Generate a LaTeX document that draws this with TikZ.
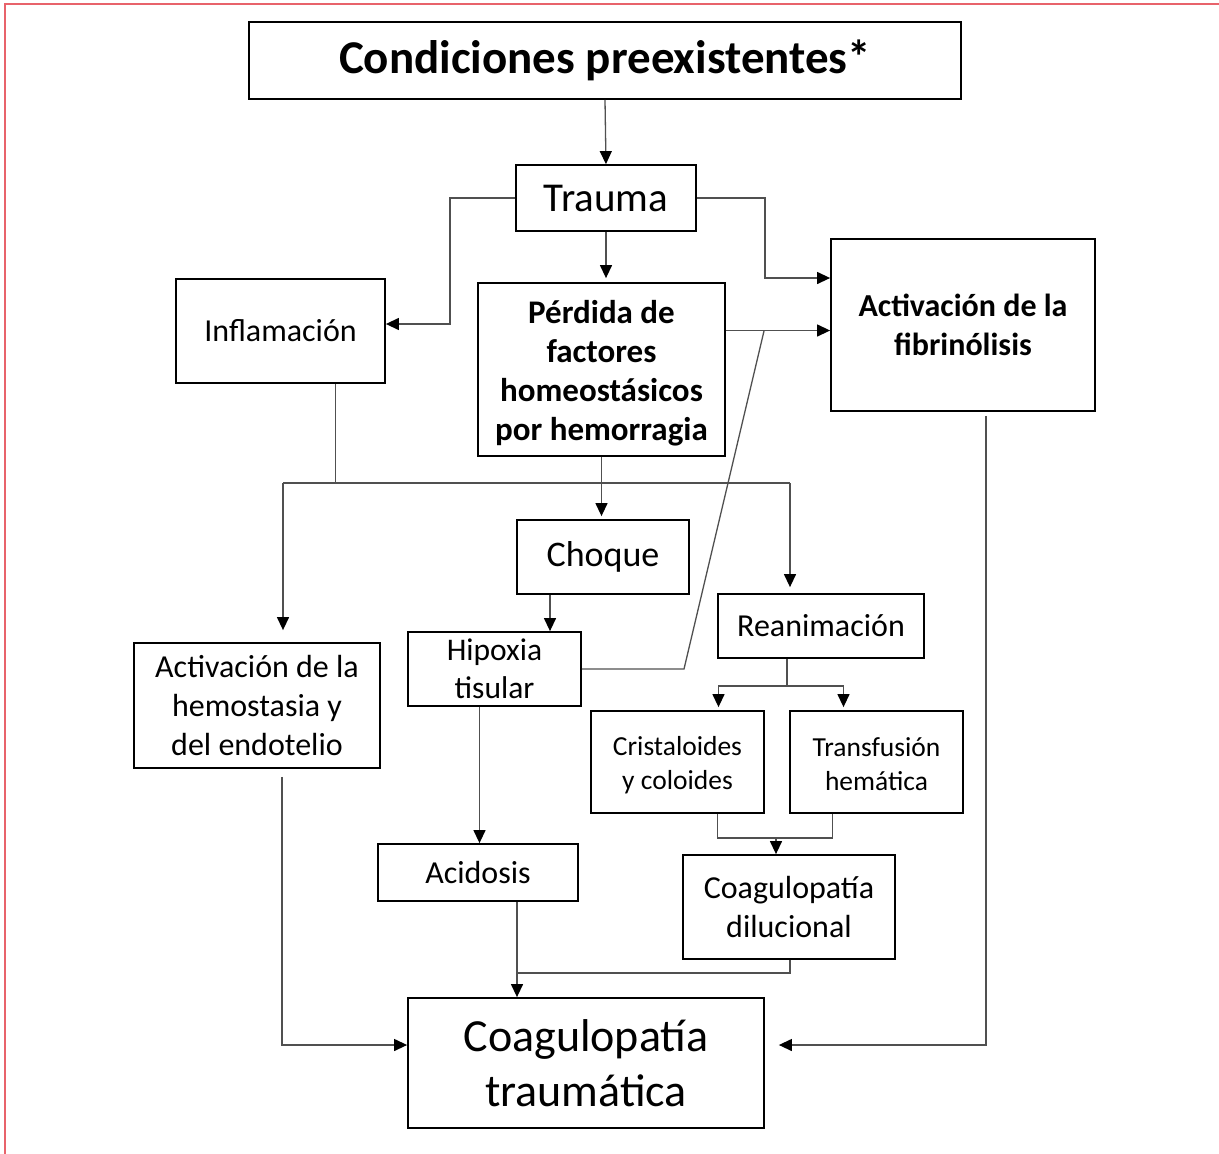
\documentclass[tikz,border=0pt]{standalone}
\usepackage{fontspec}
\setmainfont{Carlito}
\usepackage{tikz}
\usetikzlibrary{arrows.meta, positioning, calc}
\def\fs#1#2{\fontsize{#1}{#2}\selectfont}
\def\bajo#1#2#3{\parbox{#1}{\centering\vspace*{#2}#3}}
\definecolor{marco}{HTML}{E8636B}
\definecolor{gris}{HTML}{505050}
\tikzset{
  caja/.style={draw=black, line width=1.8pt, inner sep=0pt, align=center},
  linea/.style={gris, line width=1.3pt},
  flecha/.style={linea, -{Triangle[length=13pt,width=12pt,color=black]}},
}

\begin{document}
\begin{tikzpicture}[x=1pt,y=-1pt]
\useasboundingbox (0,0) rectangle (1219,1154);
\draw[marco, line width=1.6pt] (5,1154) -- (5,4) -- (1219,4);

\node[caja, minimum width=712pt, minimum height=77pt, font=\bfseries\fs{47}{55}] (cond) at (605,60.5) {Condiciones preexistentes*};
\node[caja, minimum width=180pt, minimum height=66pt, font=\fs{41}{48}] (trauma) at (606,198) {Trauma};
\node[caja, minimum width=209pt, minimum height=104pt, font=\fs{32}{39}] (inflam) at (280.5,331) {Inflamación};
\node[caja, minimum width=247pt, minimum height=173pt, font=\bfseries\fs{33}{39}] (perdida) at (601.5,369.5) {\bajo{240pt}{8pt}{Pérdida de\\factores\\homeostásicos\\por hemorragia}};
\node[caja, minimum width=264pt, minimum height=172pt, font=\bfseries\fs{32}{39}] (fibrin) at (963,325) {Activación de la\\fibrinólisis};
\node[caja, minimum width=172pt, minimum height=74pt, font=\fs{36}{42}] (choque) at (603,557) {Choque};
\node[caja, minimum width=173pt, minimum height=74pt, font=\fs{31.5}{38}] (hipoxia) at (494.5,669) {Hipoxia\\tisular};
\node[caja, minimum width=206pt, minimum height=64pt, font=\fs{32}{39}] (reanim) at (821,626) {Reanimación};
\node[caja, minimum width=246pt, minimum height=125pt, font=\fs{32}{39}] (hemo) at (257,705.5) {Activación de la\\hemostasia y\\del endotelio};
\node[caja, minimum width=173pt, minimum height=102pt, font=\fs{27.5}{34}] (crist) at (677.5,762) {\bajo{165pt}{6pt}{Cristaloides\\y coloides}};
\node[caja, minimum width=173pt, minimum height=102pt, font=\fs{27.5}{34}] (transf) at (876.5,762) {\bajo{165pt}{4pt}{Transfusión\\hemática}};
\node[caja, minimum width=200pt, minimum height=57pt, font=\fs{32}{39}] (acid) at (478,872.5) {Acidosis};
\node[caja, minimum width=212pt, minimum height=104pt, font=\fs{32}{39}] (dil) at (789,907) {Coagulopatía\\dilucional};
\node[caja, minimum width=356pt, minimum height=130pt, font=\fs{46}{55}] (coagt) at (586,1063) {Coagulopatía\\traumática};

% desde trauma
\draw[flecha] (cond.south) -- (trauma.north);
\draw[flecha] (trauma.south) -- ([yshift=4pt]trauma.south |- perdida.north);
\draw[flecha] (trauma.west) -- ++(-65,0) |- ([yshift=7pt]inflam.east);
\draw[flecha] (trauma.east) -- ++(68,0) |- ([yshift=47pt]fibrin.west);
\draw[flecha] ([yshift=39pt]perdida.east) coordinate (pe) -- (pe -| fibrin.west);
\coordinate (cruce) at (764,331);
\draw[linea] (hipoxia.east) -- (684,669) -- (cruce);

% inflamacion
\coordinate (busL) at (283,483);
\coordinate (busR) at (790,483);
\draw[linea] ([xshift=55pt]inflam.south) -- ([xshift=55pt]inflam.south |- busL);
\draw[linea] (busL) -- (busR);
\draw[flecha, shorten >=12pt] (busL) -- (busL |- hemo.north);
\draw[flecha, shorten >=6pt] (busR) -- (busR |- reanim.north);

\draw[flecha] (perdida.south) -- ([yshift=3pt]perdida.south |- choque.north);
\draw[flecha] ([xshift=-53pt]choque.south) -- ([xshift=-53pt]choque.south |- hipoxia.north);
\draw[flecha] ([xshift=-15pt]hipoxia.south) -- ([xshift=-15pt]hipoxia.south |- acid.north);

% reanimacion
\draw[linea] ([xshift=-34pt]reanim.south) -- ++(0,27) coordinate (rj);
\draw[flecha] (rj) -| ([xshift=41pt,yshift=3pt]crist.north);
\draw[flecha] (rj) -| ([xshift=-33pt,yshift=3pt]transf.north);
\draw[linea] ([xshift=40pt]crist.south) -- ++(0,24) coordinate (cj) -| ([xshift=-44pt]transf.south);
\draw[flecha] ([xshift=-13pt]dil.north |- cj) -- ([xshift=-13pt]dil.north);

% hacia coagulopatia traumatica
\coordinate (acx) at ([xshift=39pt]acid.south);
\draw[flecha] (acx) -- (acx |- coagt.north);
\draw[linea] ([xshift=1pt]dil.south) -- ++(0,13) coordinate (dj) -- (dj -| acx);
\draw[flecha] ([xshift=25pt,yshift=-8pt]hemo.south) |- ([yshift=18pt]coagt.west);
\draw[flecha] ([xshift=23pt,yshift=-4pt]fibrin.south) |- ([xshift=14pt,yshift=18pt]coagt.east);
\end{tikzpicture}
\end{document}
